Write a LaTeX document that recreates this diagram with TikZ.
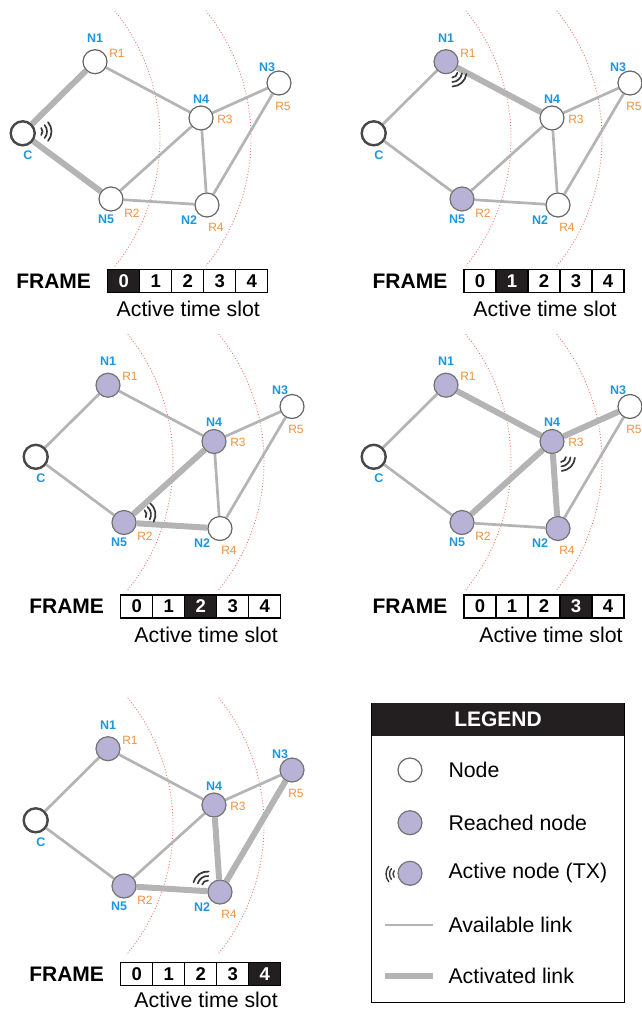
\documentclass[tikz,border=0pt]{standalone}
\usepackage{fontspec}
\setmainfont{Liberation Sans}
\usetikzlibrary{backgrounds,calc}
\definecolor{nblue}{RGB}{30,150,220}
\definecolor{rorange}{RGB}{240,145,60}
\definecolor{lav}{RGB}{184,178,214}
\definecolor{lgray}{RGB}{180,180,180}
\definecolor{arcred}{RGB}{240,120,96}
\definecolor{fblack}{RGB}{35,31,32}
\tikzset{
  basenode/.style={circle, minimum size=24pt, inner sep=0pt, line width=1.2pt, draw=black!60, fill=white},
  plainnode/.style={basenode},
  reached/.style={basenode, fill=lav, draw=black!55},
  cnode/.style={basenode, line width=2.4pt, draw=black!72},
  avail/.style={draw=lgray, line width=2.7pt},
  activ/.style={draw=lgray, line width=6pt},
  nlab/.style={text=nblue, font=\bfseries\fontsize{12.5}{12.5}\selectfont, inner sep=0pt},
  rlab/.style={text=rorange, font=\fontsize{12}{12}\selectfont, inner sep=0pt},
  rangearc/.style={draw=arcred, line width=0.9pt, dotted},
  wave/.style={draw=black!78, line width=1.7pt, line cap=round},
  celloff/.style={rectangle, draw=black, line width=1.3pt, fill=white, text=black, minimum width=32pt, minimum height=23pt, inner sep=0pt, font=\bfseries\fontsize{18.5}{18.5}\selectfont},
  cellon/.style={celloff, fill=fblack, text=white},
  framelbl/.style={font=\bfseries\fontsize{21}{21}\selectfont, inner sep=0pt, anchor=east},
  slotlbl/.style={font=\fontsize{21.3}{22}\selectfont, inner sep=0pt},
  legtxt/.style={font=\fontsize{21.3}{22}\selectfont, inner sep=0pt, anchor=west},
  sC/.style={cnode}, sN1/.style={plainnode}, sN2/.style={plainnode},
  sN3/.style={plainnode}, sN4/.style={plainnode}, sN5/.style={plainnode},
  lCN1/.style={avail}, lCN5/.style={avail}, lN1N4/.style={avail}, lN5N4/.style={avail},
  lN5N2/.style={avail}, lN4N3/.style={avail}, lN4N2/.style={avail}, lN2N3/.style={avail}
}
\newcommand\netgraph[1]{%
  \node[sN1] (#1N1) at (95,61.7) {};
  \node[sC]  (#1C)  at (22.7,133.3) {};
  \node[sN4] (#1N4) at (201,118) {};
  \node[sN3] (#1N3) at (279,83) {};
  \node[sN5] (#1N5) at (111,199) {};
  \node[sN2] (#1N2) at (207,205) {};
  \begin{pgfonlayer}{background}
    \draw[rangearc] (-43,138.5) ++(-39:203) arc[start angle=-39,end angle=39,radius=203];
    \draw[rangearc] (48,138.5) ++(-39:203) arc[start angle=-39,end angle=39,radius=203];
    \draw[lCN1] (#1C) -- (#1N1);
    \draw[lCN5] (#1C) -- (#1N5);
    \draw[lN1N4] (#1N1) -- (#1N4);
    \draw[lN5N4] (#1N5) -- (#1N4);
    \draw[lN5N2] (#1N5) -- (#1N2);
    \draw[lN4N3] (#1N4) -- (#1N3);
    \draw[lN4N2] (#1N4) -- (#1N2);
    \draw[lN2N3] (#1N2) -- (#1N3);
  \end{pgfonlayer}
  \node[nlab] (#1tN1) at (95,38) {N1};
  \node[rlab] (#1tR1) at (117,53) {R1};
  \node[nlab] (#1tC)  at (28,155) {C};
  \node[nlab] (#1tN4) at (201,99) {N4};
  \node[rlab] (#1tR3) at (225,119) {R3};
  \node[nlab] (#1tN3) at (267,67) {N3};
  \node[rlab] (#1tR5) at (283,106) {R5};
  \node[nlab] (#1tN5) at (106,219) {N5};
  \node[rlab] (#1tR2) at (132,213) {R2};
  \node[nlab] (#1tN2) at (189,220) {N2};
  \node[rlab] (#1tR4) at (216,227) {R4};
}
\newcommand\wavesat[3]{%
  \foreach \wr in {5.5,10,14.5}{\draw[wave] (#1,#2) ++(#3-40:\wr) arc[start angle=#3-40,end angle=#3+40,radius=\wr];}}
\newcommand\framebar[6]{%
  \foreach \i in {0,...,4}{%
    \ifnum\i=#4 \def\cst{cellon}\else\def\cst{celloff}\fi
    \node[\cst] (#1s\i) at (#2+16+32*\i, #3+11.5) {\i};
  }
  \node[framelbl] (#1fr) at (#2-16.5, #3+11.5) {FRAME};
  \node[slotlbl] (#1ts) at (#2+80+#5, #3+#6) {Active time slot};
}
\begin{document}
\begin{tikzpicture}[x=1pt, y=-1pt]
\useasboundingbox (0,0) rectangle (641,1010);
% panel 1
\begin{scope}[sC/.style={cnode}, lCN1/.style={activ}, lCN5/.style={activ}]
  \netgraph{a}
  \wavesat{37}{131.5}{0}
\end{scope}
\framebar{a}{107.7}{269.3}{0}{0.6}{40}
% panel 2
\begin{scope}[shift={(351,0)}, sN1/.style={reached}, sN5/.style={reached}, lN1N4/.style={activ}]
  \netgraph{b}
  \wavesat{101}{72}{48}
\end{scope}
\framebar{b}{464}{269.3}{1}{1}{40}
% panel 3
\begin{scope}[shift={(13,323.5)}, sN1/.style={reached}, sN4/.style={reached}, sN5/.style={reached}, lN5N4/.style={activ}, lN5N2/.style={activ}]
  \netgraph{c}
  \wavesat{128}{191}{-10}
\end{scope}
\framebar{c}{120.7}{595}{2}{5.4}{40}
% panel 4
\begin{scope}[shift={(351,323.5)}, sN1/.style={reached}, sN4/.style={reached}, sN5/.style={reached}, sN2/.style={reached}, lN1N4/.style={activ}, lN5N4/.style={activ}, lN4N3/.style={activ}, lN4N2/.style={activ}]
  \netgraph{d}
  \wavesat{209.5}{133}{45}
\end{scope}
\framebar{d}{464}{595}{3}{7}{40}
% panel 5
\begin{scope}[shift={(13,687)}, sN1/.style={reached}, sN2/.style={reached}, sN3/.style={reached}, sN4/.style={reached}, sN5/.style={reached}, lN5N2/.style={activ}, lN4N2/.style={activ}, lN2N3/.style={activ}]
  \netgraph{e}
  \wavesat{194.5}{199}{-125}
\end{scope}
\framebar{e}{120.7}{962.7}{4}{5.4}{37}
% legend
\node[draw=black, line width=1.3pt, minimum width=252.6pt, minimum height=299.4pt, inner sep=0pt] (legbox) at (498,853) {};
\node[fill=fblack, minimum width=252.6pt, minimum height=32.7pt, inner sep=0pt, text=white, font=\bfseries\fontsize{21}{21}\selectfont] (leghead) at (498,719.6) {LEGEND};
\node[plainnode] (lgA) at (410,770) {};
\node[legtxt] (lgAt) at (448.3,770) {Node};
\node[reached] (lgB) at (410,822.7) {};
\node[legtxt] (lgBt) at (448.3,822.7) {Reached node};
\node[reached] (lgC) at (410,873.3) {};
\foreach \wr in {5,8.5,12}{\draw[wave, line width=1.4pt] (398,874) ++(140:\wr) arc[start angle=140,end angle=220,radius=\wr];}
\node[legtxt] (lgCt) at (448.3,873.3) {Active node (TX)};
\coordinate (lgD1) at (385,925);
\coordinate (lgD2) at (433.3,925);
\draw[avail] (lgD1) -- (lgD2);
\node[legtxt] (lgDt) at (448.3,925) {Available link};
\coordinate (lgE1) at (385,976);
\coordinate (lgE2) at (433.3,976);
\draw[activ] (lgE1) -- (lgE2);
\node[legtxt] (lgEt) at (448.3,976) {Activated link};
\end{tikzpicture}
\end{document}
